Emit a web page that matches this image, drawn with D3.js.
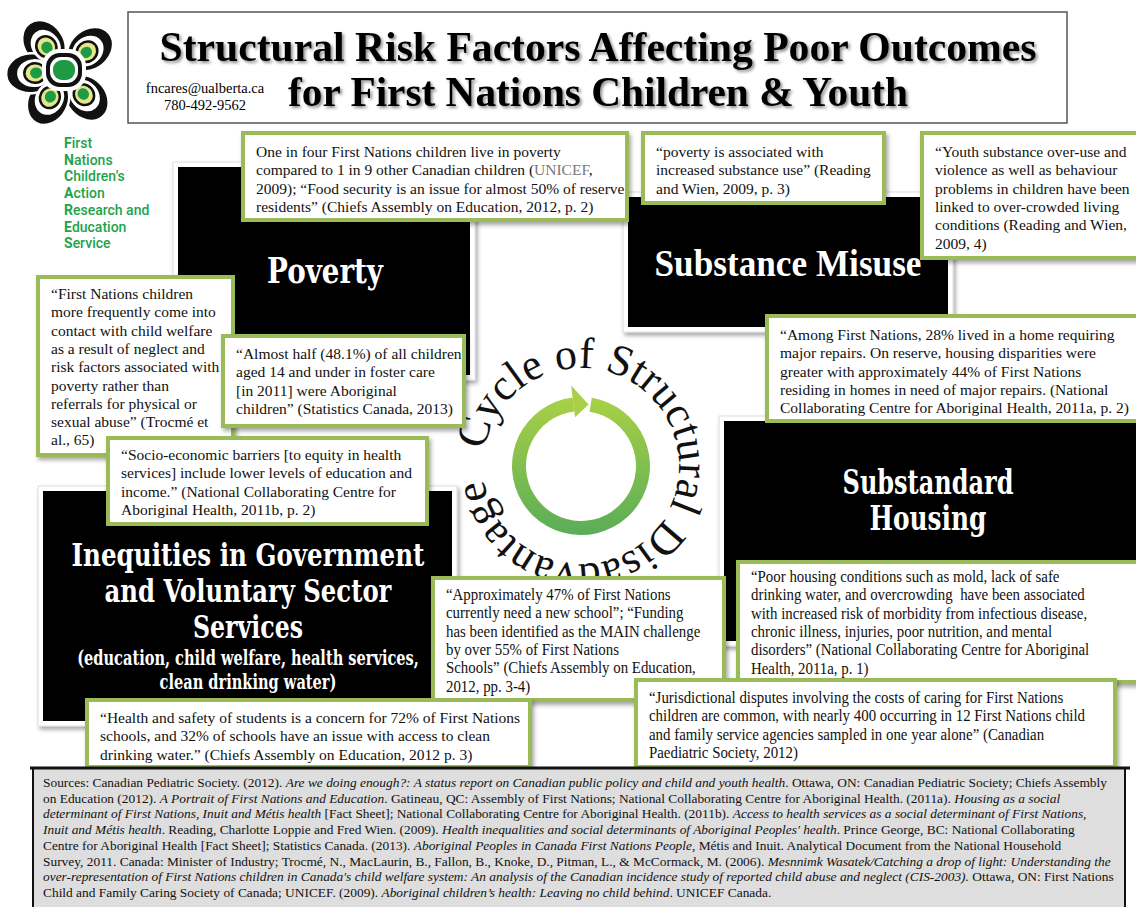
<!DOCTYPE html>
<html>
<head>
<meta charset="utf-8">
<script src="https://cdn.jsdelivr.net/npm/d3@7"></script>
<style>
html,body{margin:0;padding:0;background:#fff;}
svg{display:block;}
text{white-space:pre;}
</style>
</head>
<body>
<svg id="poster" width="1136" height="907"></svg>
<script>
// ---- text content ----
var titleLines = ["Structural Risk Factors Affecting Poor Outcomes", "for First Nations Children & Youth"];
var contactLines = ["fncares@ualberta.ca", "780-492-9562"];
var orgLines = ["First", "Nations", "Children\u2019s", "Action", "Research and", "Education", "Service"];
var cycleText = "Cycle of Structural Disadvantage";

var povertyHead = ["Poverty"];
var substanceHead = ["Substance Misuse"];
var housingHead = ["Substandard", "Housing"];
var inequityHead = ["Inequities in Government", "and Voluntary Sector", "Services",
  "(education, child welfare, health services,", "clean drinking water)"];

// {..} marks grey text
var quotePoverty = ["One in four First Nations children live in poverty",
  "compared to 1 in 9 other Canadian children ({UNICEF},",
  "2009); \u201cFood security is an issue for almost 50% of reserve",
  "residents\u201d (Chiefs Assembly on Education, 2012, p. 2)"];
var quoteSubstance = ["\u201cpoverty is associated with", "increased substance use\u201d (Reading", "and Wien, 2009, p. 3)"];
var quoteYouth = ["\u201cYouth substance over-use and", "violence as well as behaviour", "problems in children have been",
  "linked to over-crowded living", "conditions (Reading and Wien,", "2009, 4)"];
var quoteRepairs = ["\u201cAmong First Nations, 28% lived in a home requiring",
  "major repairs. On reserve, housing disparities were",
  "greater with approximately 44% of First Nations",
  "residing in homes in need of major repairs. (National",
  "Collaborating Centre for Aboriginal Health, 2011a, p. 2)"];
var quoteWelfare = ["\u201cFirst Nations children", "more frequently come into", "contact with child welfare",
  "as a result of neglect and", "risk factors associated with", "poverty rather than",
  "referrals for physical or", "sexual abuse\u201d (Trocm\u00e9 et", "al., 65)"];
var quoteFoster = ["\u201cAlmost half (48.1%) of all children", "aged 14 and under in foster care",
  "[in 2011] were Aboriginal", "children\u201d (Statistics Canada, 2013)"];
var quoteSocio = ["\u201cSocio-economic barriers [to equity in health", "services] include lower levels of education and",
  "income.\u201d (National Collaborating Centre for", "Aboriginal Health, 2011b, p. 2)"];
var quoteSchool = ["\u201cApproximately 47% of First Nations", "currently need a new school\u201d; \u201cFunding",
  "has been identified as the MAIN challenge", "by over 55% of First Nations",
  "Schools\u201d (Chiefs Assembly on Education,", "2012, pp. 3-4)"];
var quoteSafety = ["\u201cHealth and safety of students is a concern for 72% of First Nations",
  "schools, and 32% of schools have an issue with access to clean",
  "drinking water.\u201d (Chiefs Assembly on Education, 2012 p. 3)"];
var quoteMold = ["\u201cPoor housing conditions such as mold, lack of safe",
  "drinking water, and overcrowding  have been associated",
  "with increased risk of morbidity from infectious disease,",
  "chronic illness, injuries, poor nutrition, and mental",
  "disorders\u201d (National Collaborating Centre for Aboriginal",
  "Health, 2011a, p. 1)"];
var quoteJuris = ["\u201cJurisdictional disputes involving the costs of caring for First Nations",
  "children are common, with nearly 400 occurring in 12 First Nations child",
  "and family service agencies sampled in one year alone\u201d (Canadian",
  "Paediatric Society, 2012)"];

// _.._ marks italic text
var sourceLines = [
  "Sources: Canadian Pediatric Society. (2012). _Are we doing enough?: A status report on Canadian public policy and child and youth health_. Ottawa, ON: Canadian Pediatric Society; Chiefs Assembly",
  "on Education (2012). _A Portrait of First Nations and Education_. Gatineau, QC: Assembly of First Nations; National Collaborating Centre for Aboriginal Health. (2011a). _Housing as a social_",
  "_determinant of First Nations, Inuit and M\u00e9tis health_ [Fact Sheet]; National Collaborating Centre for Aboriginal Health. (2011b). _Access to health services as a social determinant of First Nations,_",
  "_Inuit and M\u00e9tis health_. Reading, Charlotte Loppie and Fred Wien. (2009). _Health inequalities and social determinants of Aboriginal Peoples' health_. Prince George, BC: National Collaborating",
  "Centre for Aboriginal Health [Fact Sheet]; Statistics Canada. (2013). _Aboriginal Peoples in Canada First Nations People,_ M\u00e9tis and Inuit. Analytical Document from the National Household",
  "Survey, 2011. Canada: Minister of Industry; Trocm\u00e9, N., MacLaurin, B., Fallon, B., Knoke, D., Pitman, L., & McCormack, M. (2006). _Mesnnimk Wasatek/Catching a drop of light: Understanding the_",
  "_over-representation of First Nations children in Canada's child welfare system: An analysis of the Canadian incidence study of reported child abuse and neglect (CIS-2003)._ Ottawa, ON: First Nations",
  "Child and Family Caring Society of Canada; UNICEF. (2009). _Aboriginal children\u2019s health: Leaving no child behind_. UNICEF Canada."
];

// ---- layout ----
var SERIF = "'Liberation Serif', 'DejaVu Serif', serif";
var SLAB = "'DejaVu Serif', 'Liberation Serif', serif";
var GREEN = "#9bbb59";

var headBoxes = [
  {x: 178, y: 167, w: 292, h: 208},
  {x: 628, y: 197, w: 320, h: 130},
  {x: 724, y: 421, w: 420, h: 220},
  {x: 43, y: 491, w: 409, h: 230}
];
var headText = [
  {lines: povertyHead, cx: 325, y0: 283, dy: [0], size: [36], len: [116], font: SLAB},
  {lines: substanceHead, cx: 788, y0: 276, dy: [0], size: [37], len: [267], font: SERIF},
  {lines: housingHead, cx: 928, y0: 494, dy: [0, 36], size: [33, 33], len: [171, 117], font: SLAB},
  {lines: inequityHead, cx: 248, y0: 566, dy: [0, 36, 72, 99, 123], size: [32, 32, 32, 21, 21], len: [353, 287, 110, 342, 177], font: SLAB}
];

var quotes = [
  {lines: quotePoverty, x: 243, y: 133, w: 384, h: 87, ty: 157, sx: 1},
  {lines: quoteSubstance, x: 643, y: 133, w: 241, h: 70, ty: 157, sx: 1},
  {lines: quoteYouth, x: 922, y: 133, w: 220, h: 125, ty: 157, sx: 1},
  {lines: quoteRepairs, x: 767, y: 316, w: 375, h: 105, ty: 340, sx: 1},
  {lines: quoteWelfare, x: 38, y: 277, w: 195, h: 178, ty: 299, sx: 1},
  {lines: quoteFoster, x: 223, y: 336, w: 241, h: 90, ty: 359, sx: 1},
  {lines: quoteSocio, x: 108, y: 438, w: 319, h: 86, ty: 460, sx: 1},
  {lines: quoteSchool, x: 433, y: 578, w: 291, h: 122, ty: 600, sx: 0.93},
  {lines: quoteSafety, x: 87, y: 700, w: 443, h: 67, ty: 723, sx: 1},
  {lines: quoteMold, x: 738, y: 562, w: 404, h: 120, ty: 582, sx: 0.93},
  {lines: quoteJuris, x: 636, y: 680, w: 479, h: 87, ty: 703, sx: 0.93}
];

var svg = d3.select("#poster");
var defs = svg.append("defs");

var sh = defs.append("filter").attr("id", "shadow").attr("x", "-10%").attr("y", "-10%").attr("width", "130%").attr("height", "130%");
sh.append("feDropShadow").attr("dx", 2).attr("dy", 3).attr("stdDeviation", 2).attr("flood-color", "#000").attr("flood-opacity", 0.35);
var tsh = defs.append("filter").attr("id", "tshadow").attr("x", "-5%").attr("y", "-20%").attr("width", "110%").attr("height", "150%");
tsh.append("feDropShadow").attr("dx", 2).attr("dy", 2).attr("stdDeviation", 1.5).attr("flood-color", "#000").attr("flood-opacity", 0.45);

var grad = defs.append("linearGradient").attr("id", "ringGrad").attr("x1", 0).attr("y1", 0).attr("x2", 0).attr("y2", 1);
grad.append("stop").attr("offset", "0%").attr("stop-color", "#a9d046");
grad.append("stop").attr("offset", "100%").attr("stop-color", "#5aad58");

// squeeze a centred text to a given width with a transform (keeps its box honest)
function fitCentered(t, cxx, y, len) {
  var w = t.node().getComputedTextLength();
  t.attr("x", 0).attr("y", 0).attr("text-anchor", "middle")
    .attr("transform", "translate(" + cxx + "," + y + ") scale(" + (len / w) + ",1)");
}

// ---- logo ----
var logo = svg.append("g").attr("transform", "translate(64,71)");
var petals = [{a: -36, d: 30}, {a: 50, d: 30}, {a: 140, d: 31}, {a: 208, d: 30}, {a: 266, d: 29}];
petals.forEach(function(p) {
  var pg = logo.append("g").attr("transform", "rotate(" + p.a + ")");
  pg.append("ellipse").attr("cx", 0).attr("cy", -(p.d + 4)).attr("rx", 20).attr("ry", 25)
    .attr("fill", "#111").attr("stroke", "#fff").attr("stroke-width", 2.5);
});
petals.forEach(function(p) {
  var pg = logo.append("g").attr("transform", "rotate(" + p.a + ")");
  pg.append("ellipse").attr("cx", 0).attr("cy", -(p.d + 1)).attr("rx", 14).attr("ry", 17).attr("fill", "#fff");
  pg.append("ellipse").attr("cx", 0).attr("cy", -p.d).attr("rx", 11).attr("ry", 12).attr("fill", "#111");
  pg.append("ellipse").attr("cx", 0).attr("cy", -p.d).attr("rx", 8.5).attr("ry", 9.5).attr("fill", "#e3e68a");
  pg.append("ellipse").attr("cx", 0).attr("cy", -p.d + 1).attr("rx", 5.5).attr("ry", 6).attr("fill", "#1e9a45");
});
logo.append("rect").attr("x", -22).attr("y", -22).attr("width", 44).attr("height", 42).attr("rx", 17).attr("fill", "#fff");
logo.append("rect").attr("x", -18).attr("y", -18).attr("width", 36).attr("height", 34).attr("rx", 14).attr("fill", "#111");
logo.append("rect").attr("x", -14).attr("y", -14).attr("width", 28).attr("height", 26).attr("rx", 11).attr("fill", "#fff");
logo.append("rect").attr("x", -11).attr("y", -11).attr("width", 22).attr("height", 20).attr("rx", 9).attr("fill", "#1e9a45");

svg.append("g").selectAll("text").data(orgLines).enter().append("text")
  .attr("x", 64).attr("y", function(d, i) { return 148 + i * 16.7; })
  .attr("font-family", "Roboto, 'DejaVu Sans', sans-serif").attr("font-size", 14).attr("font-weight", 500)
  .attr("fill", "#1fa34a")
  .each(function(d) {
    var t = d3.select(this);
    t.append("tspan").attr("font-weight", 700).text(d.charAt(0));
    t.append("tspan").text(d.slice(1));
  });

// ---- title ----
svg.append("rect").attr("x", 128).attr("y", 12).attr("width", 939).attr("height", 111)
  .attr("fill", "#fff").attr("stroke", "#555").attr("stroke-width", 1.5);
var titleY = [61, 106], titleLen = [877, 620];
titleLines.forEach(function(ln, i) {
  var t = svg.append("text").attr("font-family", SERIF).attr("font-weight", 700).attr("font-size", 42)
    .attr("filter", "url(#tshadow)").text(ln);
  fitCentered(t, 598, titleY[i], titleLen[i]);
});
svg.append("g").selectAll("text").data(contactLines).enter().append("text")
  .attr("x", 205).attr("y", function(d, i) { return 93 + i * 17; })
  .attr("text-anchor", "middle").attr("font-family", SERIF).attr("font-size", 14.5)
  .text(function(d) { return d; });

// ---- black heading boxes ----
var heads = svg.append("g");
headBoxes.forEach(function(b) {
  heads.append("rect").attr("x", b.x - 5).attr("y", b.y - 5).attr("width", b.w + 10).attr("height", b.h + 10)
    .attr("fill", "#fff").attr("stroke", "#ddd").attr("filter", "url(#shadow)");
  heads.append("rect").attr("x", b.x).attr("y", b.y).attr("width", b.w).attr("height", b.h).attr("fill", "#000");
});
headText.forEach(function(h) {
  h.lines.forEach(function(ln, i) {
    var t = heads.append("text").attr("font-family", h.font).attr("font-weight", 700)
      .attr("font-size", h.size[i]).attr("fill", "#fff").text(ln);
    fitCentered(t, h.cx, h.y0 + h.dy[i], h.len[i]);
  });
});

// ---- cycle graphic ----
var cx = 581, cy = 466;
var cyc = svg.append("g");
var rad = Math.PI / 180;
cyc.append("path").attr("transform", "translate(" + cx + "," + cy + ")")
  .attr("d", d3.arc().innerRadius(55).outerRadius(69).startAngle(9 * rad).endAngle(353 * rad)())
  .attr("fill", "url(#ringGrad)");
function polar(r, deg) { return [cx + r * Math.sin(deg * rad), cy - r * Math.cos(deg * rad)]; }
cyc.append("path")
  .attr("d", "M" + [polar(49, -7), polar(81, -7), polar(62, 7)].join("L") + "Z")
  .attr("fill", "#a9d046");

// letters placed one by one around the ring (clockwise, starting left)
var tr = 98, startDeg = 279, spanDeg = 343, cycSize = 44;
var meas = svg.append("text").attr("font-family", SERIF).attr("font-size", cycSize).text(cycleText);
var advances = d3.range(cycleText.length).map(function(i) { return meas.node().getSubStringLength(i, 1); });
meas.remove();
var extra = (2 * Math.PI * tr * spanDeg / 360 - d3.sum(advances)) / cycleText.length;
var acc = 0;
var letters = advances.map(function(w, i) {
  var mid = acc + w / 2 + extra * (i + 0.5);
  acc += w;
  return {ch: cycleText.charAt(i), deg: startDeg + mid / tr / rad};
});
cyc.selectAll("text.cyc").data(letters.filter(function(d) { return d.ch !== " "; })).enter().append("text")
  .attr("class", "cyc")
  .attr("transform", function(d) { var p = polar(tr, d.deg); return "translate(" + p + ") rotate(" + d.deg + ")"; })
  .attr("text-anchor", "middle").attr("font-family", SERIF).attr("font-size", cycSize).attr("fill", "#111")
  .text(function(d) { return d.ch; });

// ---- quote boxes ----
function segs(line, re) {
  var out = [], parts = line.split(re);
  parts.forEach(function(p, i) { if (p.length) out.push({t: p, alt: i % 2 === 1}); });
  return out;
}
var qg = svg.append("g");
quotes.forEach(function(q) {
  var g = qg.append("g");
  g.append("rect").attr("x", q.x).attr("y", q.y).attr("width", q.w).attr("height", q.h)
    .attr("fill", "#fff").attr("stroke", GREEN).attr("stroke-width", 4).attr("filter", "url(#shadow)");
  q.lines.forEach(function(ln, i) {
    var t = g.append("text")
      .attr("transform", "translate(" + (q.x + 13) + "," + (q.ty + i * 18.3) + ") scale(" + q.sx + ",1)")
      .attr("font-family", SERIF).attr("font-size", q.sx < 1 ? 16 : 15.5).attr("fill", "#111");
    segs(ln, /[{}]/).forEach(function(s) {
      t.append("tspan").attr("fill", s.alt ? "#777" : null).text(s.t);
    });
  });
});

// ---- sources ----
var src = svg.append("g");
src.append("rect").attr("x", 33).attr("y", 768).attr("width", 1092).attr("height", 145)
  .attr("fill", "#dedede").attr("stroke", "#111").attr("stroke-width", 2);
src.append("line").attr("x1", 30).attr("x2", 1130).attr("y1", 768).attr("y2", 768).attr("stroke", "#111").attr("stroke-width", 3);
sourceLines.forEach(function(ln, i) {
  var t = src.append("text").attr("x", 43).attr("y", 787 + i * 15.7)
    .attr("font-family", SERIF).attr("font-size", 13.4).attr("fill", "#111");
  segs(ln, /_/).forEach(function(s) {
    t.append("tspan").attr("font-style", s.alt ? "italic" : null).text(s.t);
  });
});
</script>
</body>
</html>
